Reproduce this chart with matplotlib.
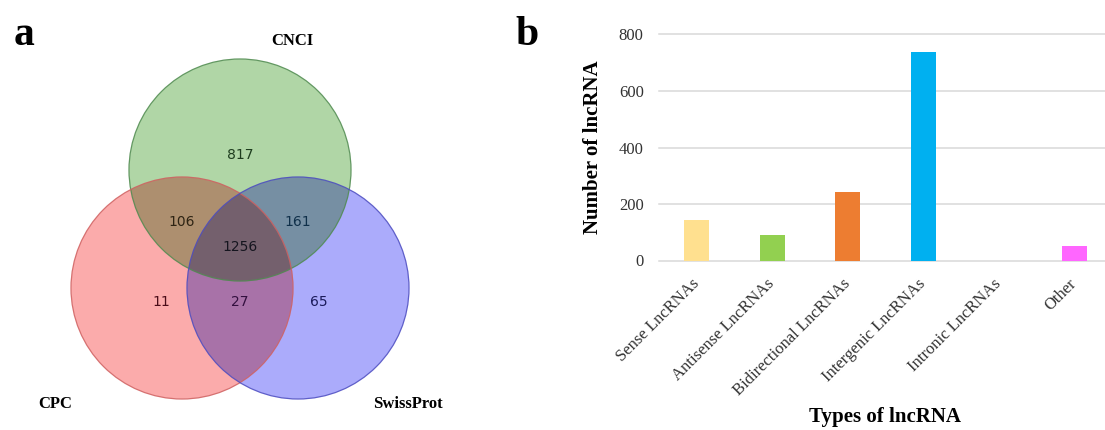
import numpy as np
import matplotlib
matplotlib.use('Agg')
import matplotlib.pyplot as plt
from matplotlib.patches import Circle

# Venn diagram: set names and region counts
set_names = ['CNCI', 'CPC', 'SwissProt']
region_labels = ['817', '106', '161', '1256', '11', '27', '65']
region_counts = [817, 106, 161, 1256, 11, 27, 65]

# Bar chart: lncRNA classes
lnc_types = ['Sense LncRNAs', 'Antisense LncRNAs', 'Bidirectional LncRNAs',
             'Intergenic LncRNAs', 'Intronic LncRNAs', 'Other']
lnc_counts = [145, 92, 242, 739, 0, 50]
y_ticks = [0, 200, 400, 600, 800]

W, H = 1105, 430
fig = plt.figure(figsize=(W / 100, H / 100), dpi=100)
fig.patch.set_facecolor('white')

SERIF = 'Liberation Serif'

# ---------------- panel a: Venn ----------------
VW = 550
ax_v = fig.add_axes([0, 0, VW / W, 1])
ax_v.set_xlim(0, VW)
ax_v.set_ylim(H, 0)
ax_v.axis('off')

# circle layout in pixel units (centre x, centre y), shared radius
centres = [(240, 170), (182, 288), (298, 288)]
radius = 111
fills = [(176, 214, 166), (251, 171, 171), (171, 171, 251)]
edges = ['#4f8a4f', '#cf6060', '#4b4bc0']

# multiply-blend the three fills so overlaps darken like stacked filters
scale = 2
gx = (np.arange(VW * scale) + 0.5) / scale
gy = (np.arange(H * scale) + 0.5) / scale
X, Y = np.meshgrid(gx, gy)
img = np.ones((H * scale, VW * scale, 3))
for (cx, cy), col in zip(centres, fills):
    d = np.sqrt((X - cx) ** 2 + (Y - cy) ** 2)
    a = np.clip((radius - d) * scale + 0.5, 0, 1)[..., None]
    c = np.array(col) / 255.0
    img *= 1 - a * (1 - c)
ax_v.imshow(img, extent=(0, VW, H, 0), interpolation='bilinear', zorder=1)

for (cx, cy), ec in zip(centres, edges):
    ax_v.add_patch(Circle((cx, cy), radius, fill=False, edgecolor=ec,
                          lw=0.9, alpha=0.85, zorder=2))

# region label positions (pixel units)
label_pos = [(240, 155), (182, 222), (298, 222), (240, 247),
             (161, 302), (240, 302), (319, 302)]
label_cols = ['#1e3d1e', '#2e2414', '#10304a', '#15151f',
              '#4a0c18', '#33103f', '#1a1a5a']
for txt, (x, y), c in zip(region_labels, label_pos, label_cols):
    ax_v.text(x, y, txt, ha='center', va='center', fontsize=10,
              family='DejaVu Sans', color=c, zorder=3)

name_pos = [(292, 41), (55, 404), (408, 404)]
for name, (x, y) in zip(set_names, name_pos):
    ax_v.text(x, y, name, ha='center', va='center', fontsize=12,
              family=SERIF, fontweight='bold', zorder=3)

# ---------------- panel b: bar chart ----------------
left, right, top, bottom = 659, 1105, 34.5, 260.5
ax_b = fig.add_axes([left / W, 1 - bottom / H, (right - left) / W, (bottom - top) / H])
colors = ['#FFE08F', '#92D050', '#ED7D31', '#00B0F0', '#A5A5A5', '#FF66FF']
x = np.arange(len(lnc_types))
ax_b.bar(x, lnc_counts, width=0.33, color=colors, zorder=3)
ax_b.set_xlim(-0.5, 5.41)
ax_b.set_ylim(0, 800)
ax_b.set_yticks(y_ticks)
ax_b.set_yticklabels([str(v) for v in y_ticks], family=SERIF, fontsize=12, color='#333333')
ax_b.set_xticks(x)
ax_b.set_xticklabels(lnc_types, family=SERIF, fontsize=12, color='#333333',
                     rotation=45, ha='right', va='center', rotation_mode='anchor')
ax_b.tick_params(axis='y', length=0, pad=11)
ax_b.tick_params(axis='x', length=0, pad=15)
ax_b.grid(axis='y', color='#D9D9D9', lw=1.1, zorder=0)
ax_b.set_axisbelow(True)
for gl in ax_b.get_ygridlines():
    gl.set_clip_on(False)
for s in ax_b.spines.values():
    s.set_visible(False)
ax_b.set_ylabel('Number of lncRNA', family=SERIF, fontsize=15, fontweight='bold')
ax_b.set_xlabel('Types of lncRNA', family=SERIF, fontsize=15, fontweight='bold')
ax_b.xaxis.set_label_coords((885 - left) / (right - left), (bottom - 407) / (bottom - top))
ax_b.yaxis.set_label_coords((603 - left) / (right - left), 0.5)

# panel letters
fig.text(24 / W, 1 - 45 / H, 'a', ha='center', va='baseline', fontsize=30,
         family=SERIF, fontweight='bold')
fig.text(527 / W, 1 - 45 / H, 'b', ha='center', va='baseline', fontsize=30,
         family=SERIF, fontweight='bold')

fig.savefig('out.png', dpi=100, facecolor='white')
